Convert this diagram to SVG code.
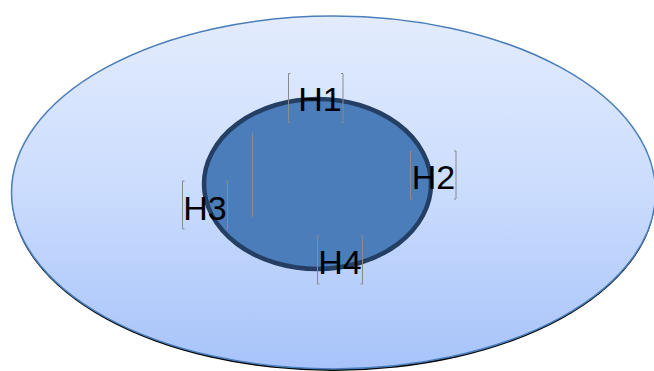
<svg xmlns="http://www.w3.org/2000/svg" width="654" height="371" viewBox="0 0 654 371">
<defs>
<linearGradient id="g" x1="0" y1="0" x2="0" y2="1">
<stop offset="0" stop-color="#e3ecfd"/>
<stop offset="0.5" stop-color="#cadcfd"/>
<stop offset="1" stop-color="#a7c3fa"/>
</linearGradient>
</defs>
<style>
.lbl{font-family:"Liberation Sans",Arial,sans-serif;font-size:34px;fill:#000;text-anchor:middle}
.br{fill:none;stroke:#8a8a8a;stroke-width:1}
</style>
<g id="outer">
<ellipse cx="333.5" cy="194.5" rx="322" ry="176.5" fill="#000"/>
<ellipse cx="333.5" cy="192.5" rx="322" ry="176.5" fill="url(#g)" stroke="#4a7ebb" stroke-width="1.5"/>
</g>
<g id="inner">
<ellipse cx="317.5" cy="184" rx="113.5" ry="85" fill="#4a7dba" stroke="#243f63" stroke-width="4.5"/>
</g>
<g id="empty">
<path class="br" d="M252.5,132.5 V217.5"/>
</g>
<g id="H1">
<path class="br" d="M290.5,73.5 H288.5 V122.5 H290.5 M341,73.5 H343 V122.5 H341"/>
<text class="lbl" x="320" y="111">H1</text>
</g>
<g id="H2">
<path class="br" d="M412.5,151 H410.5 V199 H412.5 M454,151 H456 V199 H454"/>
<text class="lbl" x="433.5" y="189">H2</text>
</g>
<g id="H3">
<path class="br" d="M184.5,181 H182.5 V229 H184.5 M225.5,181 H227.5 V229 H225.5"/>
<text class="lbl" x="205" y="219.5">H3</text>
</g>
<g id="H4">
<path class="br" d="M319.5,236 H317.5 V284 H319.5 M360.5,236 H362.5 V284 H360.5"/>
<text class="lbl" x="340" y="273.5">H4</text>
</g>
</svg>
